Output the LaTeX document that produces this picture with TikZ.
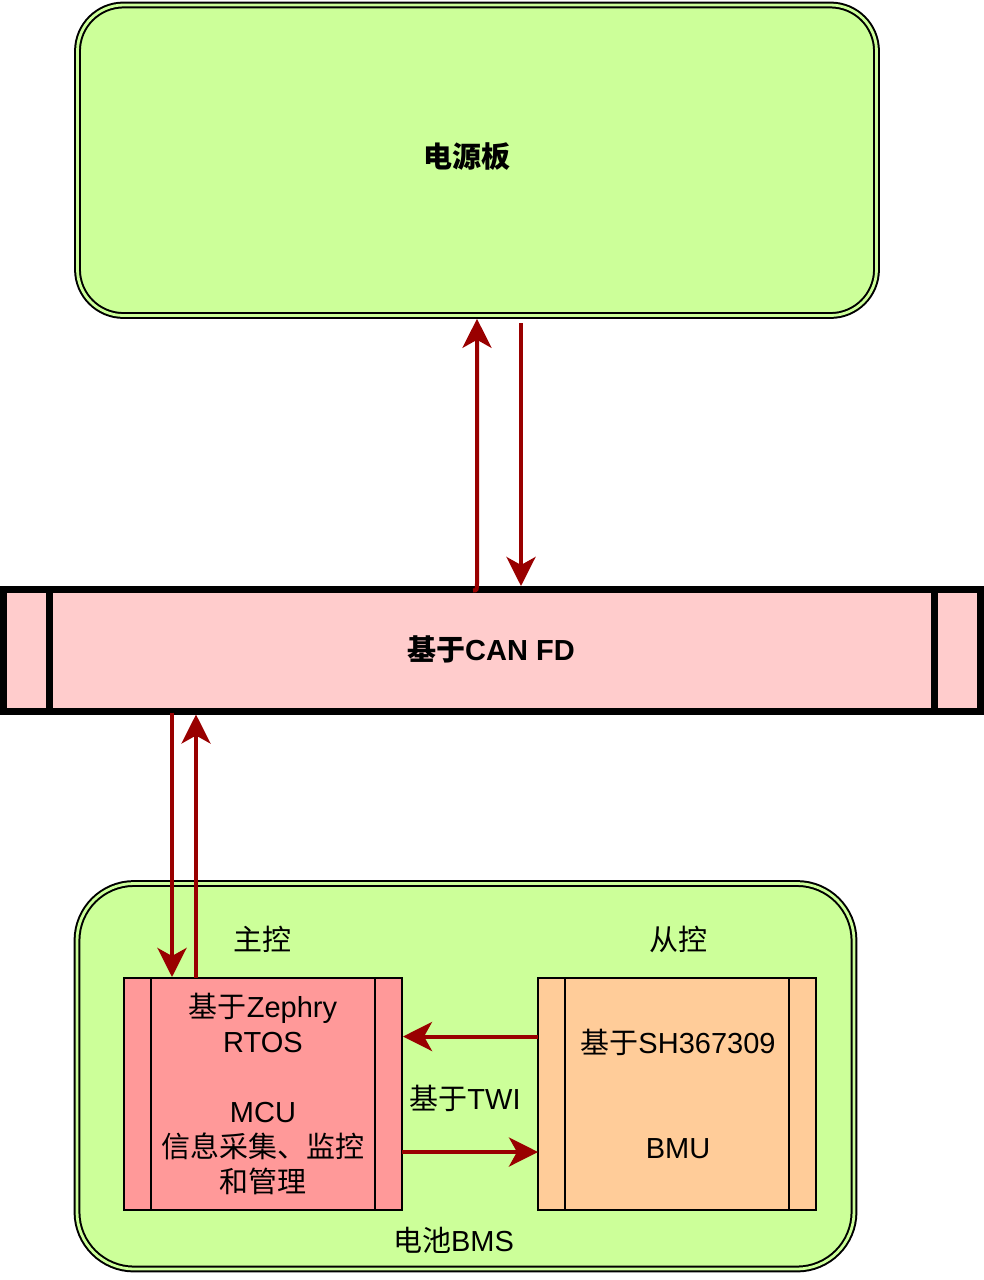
\documentclass[tikz,border=0pt]{standalone}
\usepackage{fontspec}
\setmainfont{Liberation Sans}
\newfontfamily\cjk{Noto Sans CJK SC}
\usetikzlibrary{arrows.meta}
\definecolor{lgreen}{HTML}{CCFF99}
\definecolor{lpink}{HTML}{FFCCCC}
\definecolor{mcured}{HTML}{FF9999}
\definecolor{bmuorange}{HTML}{FFCC99}
\definecolor{dred}{HTML}{990000}
\begin{document}
\begin{tikzpicture}[x=1pt,y=-1pt,
  dbox/.style={draw=black, line width=2pt, double=lgreen, double distance=2.8pt, fill=lgreen, inner sep=0pt, outer sep=0pt},
  chip/.style={draw=black, line width=2pt, inner sep=0pt, outer sep=0pt, minimum width=278pt, minimum height=232pt},
  link/.style={draw=dred, line width=4pt, -{Stealth[length=29pt,width=29pt,inset=8pt]}},
  txt/.style={font=\fontsize{29}{35}\selectfont, align=center, inner sep=0pt},
]
\useasboundingbox (0,0) rectangle (984,1280);

% top power board
\node[dbox, rounded corners=46pt, minimum width=799pt, minimum height=310.5pt] (top) at (477,160.25) {};
\node[txt] (toplabel) at (467,157) {\bfseries\cjk 电源板};

% CAN FD bar
\node[draw=black, line width=7pt, fill=lpink, inner sep=0pt, outer sep=0pt, minimum width=977pt, minimum height=121.5pt] (bar) at (492,650.25) {};
\draw[line width=7pt] ([xshift=46pt]bar.north west) -- ([xshift=46pt]bar.south west);
\draw[line width=7pt] ([xshift=-46pt]bar.north east) -- ([xshift=-46pt]bar.south east);
\node[txt] (barlabel) at (491,649) {\bfseries{\cjk 基于}CAN FD};

% battery BMS container
\node[dbox, rounded corners=57pt, minimum width=777pt, minimum height=385.5pt] (bms) at (465.5,1076.25) {};
\node[txt] (bmslabel) at (453.5,1240) {{\cjk 电池}BMS};
\node[txt] (mainlabel) at (262,939) {\cjk 主控};
\node[txt] (sublabel) at (678,939) {\cjk 从控};

% MCU
\node[chip, fill=mcured] (mcu) at (263,1094) {};
\draw[line width=2pt] ([xshift=27pt]mcu.north west) -- ([xshift=27pt]mcu.south west);
\draw[line width=2pt] ([xshift=-27pt]mcu.north east) -- ([xshift=-27pt]mcu.south east);
\node[txt] (mcutext) at (263,1094) {{\cjk 基于}Zephry\\RTOS\\[35pt]MCU\\{\cjk 信息采集、监控}\\{\cjk 和管理}};

% BMU
\node[chip, fill=bmuorange] (bmu) at (677,1094) {};
\draw[line width=2pt] ([xshift=27pt]bmu.north west) -- ([xshift=27pt]bmu.south west);
\draw[line width=2pt] ([xshift=-27pt]bmu.north east) -- ([xshift=-27pt]bmu.south east);
\node[txt] (bmutext) at (678,1094) {{\cjk 基于}SH367309\\[70pt]BMU};

\node[txt] (twi) at (465,1098) {{\cjk 基于}TWI};

% connectors
\draw[link] ([xshift=-19pt,yshift=-1pt]bar.north) .. controls ([xshift=-15pt,yshift=-1pt]bar.north) .. ([xshift=-15pt,yshift=8pt]bar.north) -- ([yshift=-3.3pt]top.south);
\draw[link] ([xshift=44pt,yshift=-7.5pt]top.south) -- ([xshift=29pt,yshift=3.5pt]bar.north);
\draw[link] ([xshift=-320pt,yshift=-1.5pt]bar.south) -- ([xshift=-91pt,yshift=1pt]mcu.north);
\draw[link] ([xshift=-67pt]mcu.north) -- ([xshift=-296pt,yshift=-3.5pt]bar.south);
\draw[link] ([yshift=57.5pt]bmu.west) -- ([yshift=57.5pt,xshift=1pt]mcu.east);
\draw[link] ([yshift=-58pt]mcu.east) -- ([yshift=-58pt]bmu.west);
\end{tikzpicture}
\end{document}
